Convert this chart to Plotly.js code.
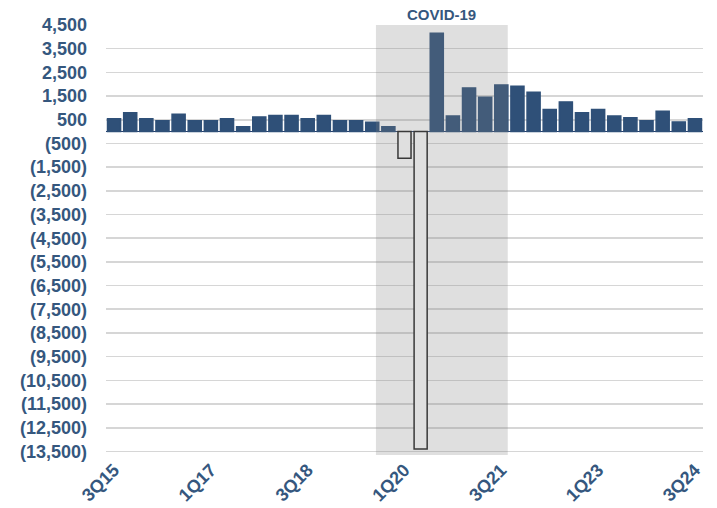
<!DOCTYPE html>
<html>
<head>
<meta charset="utf-8">
<script src="https://cdn.plot.ly/plotly-3.0.1.min.js"></script>
<style>
  html, body { margin: 0; padding: 0; background: #ffffff; }
  #chart { width: 717px; height: 508px; }
</style>
</head>
<body>
<div id="chart"></div>
<script>
// Quarter labels (3Q15 .. 3Q24)
var quarters = [
  "3Q15","4Q15","1Q16","2Q16","3Q16","4Q16","1Q17","2Q17","3Q17","4Q17",
  "1Q18","2Q18","3Q18","4Q18","1Q19","2Q19","3Q19","4Q19","1Q20","2Q20",
  "3Q20","4Q20","1Q21","2Q21","3Q21","4Q21","1Q22","2Q22","3Q22","4Q22",
  "1Q23","2Q23","3Q23","4Q23","1Q24","2Q24","3Q24"
];
// Values
var values = [
  540, 800, 540, 460, 730, 460, 460, 540, 210, 620,
  675, 675, 540, 675, 460, 460, 395, 210, -1120, -13400,
  4150, 660, 1845, 1450, 1970, 1915, 1660, 930, 1255, 800,
  930, 660, 590, 460, 860, 410, 540
];
var xTickLabels = ["3Q15","1Q17","3Q18","1Q20","3Q21","1Q23","3Q24"];
var yTickVals = [4500,3500,2500,1500,500,-500,-1500,-2500,-3500,-4500,-5500,-6500,
                 -7500,-8500,-9500,-10500,-11500,-12500,-13500];
var shadeLabel = "COVID-19";

function fmt(v) {
  var s = Math.abs(v).toString().replace(/\B(?=(\d{3})+(?!\d))/g, ",");
  return v < 0 ? "(" + s + ")" : s;
}

var NAVY = "#2F5078";
var TEXT = "#35577E";

var fills = values.map(function (v) { return v < 0 ? "#ffffff" : NAVY; });
var lines = values.map(function (v) { return v < 0 ? "#222222" : NAVY; });

var trace = {
  type: "bar",
  x: quarters,
  y: values,
  marker: { color: fills, line: { color: lines, width: 1.5 } },
  hoverinfo: "x+y"
};

var layout = {
  width: 717,
  height: 508,
  margin: { l: 106, r: 14, t: 25, b: 53 },
  paper_bgcolor: "#ffffff",
  plot_bgcolor: "#ffffff",
  showlegend: false,
  bargap: 0.19,
  font: { family: "Liberation Sans, Arial, sans-serif", color: TEXT },
  xaxis: {
    type: "category",
    range: [-0.5, quarters.length - 0.5],
    tickmode: "array",
    tickvals: xTickLabels,
    ticktext: xTickLabels,
    tickangle: -45,
    tickfont: { size: 18, color: TEXT, family: "Liberation Sans, Arial, sans-serif", weight: "bold" },
    showgrid: false,
    zeroline: false,
    showline: false,
    ticks: ""
  },
  yaxis: {
    range: [-13650, 4500],
    tickmode: "array",
    tickvals: yTickVals,
    ticktext: yTickVals.map(fmt),
    tickfont: { size: 18, color: TEXT, family: "Liberation Sans, Arial, sans-serif", weight: "bold" },
    showgrid: true,
    gridcolor: "#D6D6D6",
    gridwidth: 1.6,
    zeroline: true,
    zerolinecolor: "#243F6E",
    zerolinewidth: 1.6,
    showline: false,
    ticks: "",
    ticklabelstandoff: 18
  },
  shapes: [{
    type: "rect",
    xref: "x", yref: "paper",
    x0: 16.23, x1: 24.4, y0: 0, y1: 1,
    fillcolor: "rgba(128,128,128,0.25)",
    line: { width: 0 },
    layer: "above"
  }],
  annotations: [{
    xref: "x", yref: "paper",
    x: 20.3, y: 1,
    yanchor: "bottom",
    yshift: 0,
    text: "<b>" + shadeLabel + "</b>",
    showarrow: false,
    font: { size: 15, color: TEXT, family: "Liberation Sans Narrow, Liberation Sans, Arial, sans-serif" }
  }]
};

Plotly.newPlot("chart", [trace], layout, { displayModeBar: false, staticPlot: true });
</script>
</body>
</html>
